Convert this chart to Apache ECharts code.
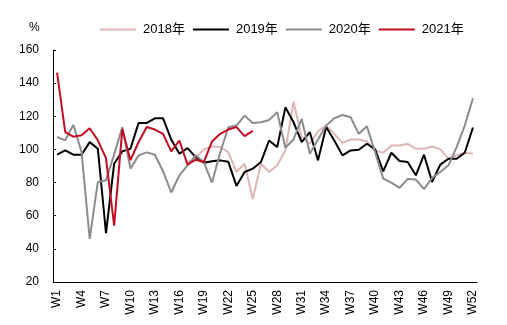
<!DOCTYPE html>
<html>
<head>
<meta charset="utf-8">
<script src="https://cdn.jsdelivr.net/npm/echarts@6/dist/echarts.min.js"></script>
<style>html,body{margin:0;padding:0;background:#fff}#c{width:507px;height:325px}</style>
</head>
<body>
<div id="c"></div>
<script>
var weeks = [];
for (var i = 1; i <= 52; i++) weeks.push('W' + i);
var seriesNames = ['2018年', '2019年', '2020年', '2021年'];
var yTicks = [20, 40, 60, 80, 100, 120, 140, 160];

var v2018 = [null, null, null, null, null, null, null, null, null, null, null, null, null, null, null, null,
  92, 95, 100, 101.8, 101.5, 98.4, 86.5, 91.4, 70, 91.4, 86.4, 90.4, 99.4, 128.8, 107.4, 103.4, 111, 114.4,
  109.4, 104, 106, 106, 104.8, 99.4, 98, 102.4, 102.4, 103.4, 100.4, 100.4, 101.8, 100, 94.4, 96.4, 98, 97.4];
var v2019 = [96.8, 99.4, 96.8, 96.8, 104.4, 100.4, 49.5, 91.4, 98.8, 100.4, 116, 116, 118.8, 118.8, 106, 97.4,
  100.8, 95.4, 92, 92.8, 93.4, 92.5, 78, 86.4, 88.4, 92.4, 105.4, 101.4, 125.4, 116.4, 104.4, 110.4, 93.4, 113.5,
  105.4, 96.4, 99.4, 99.8, 103.4, 100, 86.8, 98, 93, 92.4, 84.4, 96.8, 80.4, 90.8, 94.4, 94.4, 98, 113.2];
var v2020 = [107.5, 105.5, 114.8, 98.5, 46, 80.4, 81.4, 97, 113.4, 88.4, 96.4, 98.2, 96.8, 86.8, 74, 84.4,
  90.4, 96.4, 92.4, 80, 98, 113.4, 114.4, 120.4, 116, 116.4, 117.8, 122.4, 101, 106, 118.4, 97.4, 106, 114.5,
  118.8, 120.8, 119.4, 109.4, 114, 98.4, 82.4, 80, 76.8, 82.2, 81.8, 76, 82.8, 86.4, 90.4, 101.4, 114.4, 130.8];
var v2021 = [146.3, 110.5, 107.7, 108.5, 112.8, 105.5, 94.8, 54, 112.3, 93.5, 104.5, 113.5, 112, 109.4, 98.8, 105.4,
  90.8, 93.8, 92.4, 104.8, 109.4, 112, 113.5, 108, 111.2];

var colors = ['#DDB6B7', '#000000', '#8C8C8C', '#C00D24'];
var dataSets = [v2018, v2019, v2020, v2021];
var font = '"Liberation Sans", "Noto Sans CJK SC", sans-serif';

var chart = echarts.init(document.getElementById('c'), null, {renderer: 'canvas'});
chart.setOption({
  animation: false,
  backgroundColor: '#fff',
  color: colors,
  title: {
    text: '%', left: 24, top: 17,
    textStyle: {fontSize: 12, fontWeight: 'normal', color: '#000', fontFamily: font}
  },
  legend: {
    left: 95, top: 18,
    itemWidth: 36, itemHeight: 2, itemGap: 8, icon: 'rect',
    textStyle: {fontSize: 13, color: '#000', fontFamily: font, padding: [0, 0, 0, 2]},
    data: seriesNames
  },
  grid: {left: 53, right: 30, top: 50, bottom: 43, containLabel: false},
  xAxis: {
    type: 'category', data: weeks, boundaryGap: true,
    axisLine: {lineStyle: {color: '#000', width: 1}},
    axisTick: {inside: true, length: 4, interval: 0, lineStyle: {color: '#000'}},
    axisLabel: {rotate: 90, interval: 2, margin: 8, fontSize: 12, color: '#000', fontFamily: font},
    splitLine: {show: false}
  },
  yAxis: {
    type: 'value', min: yTicks[0], max: yTicks[yTicks.length - 1], interval: 20,
    axisLine: {show: true, lineStyle: {color: '#000', width: 1}},
    axisTick: {show: true, inside: true, length: 3, lineStyle: {color: '#000'}},
    axisLabel: {margin: 14, fontSize: 12, color: '#000', fontFamily: font},
    splitLine: {show: false}
  },
  series: seriesNames.map(function (n, k) {
    return {
      name: n, type: 'line', data: dataSets[k], symbol: 'none', connectNulls: false,
      lineStyle: {width: 2, color: colors[k]}, itemStyle: {color: colors[k]}
    };
  })
});
</script>
</body>
</html>
